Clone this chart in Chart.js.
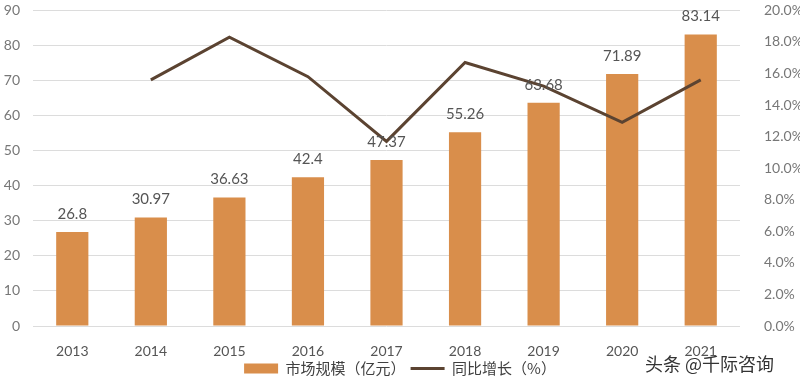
<!DOCTYPE html>
<html>
<head>
<meta charset="utf-8">
<script src="https://cdn.jsdelivr.net/npm/chart.js@4/dist/chart.umd.min.js"></script>
<style>
  html, body { margin: 0; padding: 0; background: #fff; overflow: hidden; }
  #wrap { width: 800px; height: 404px; position: relative; top: -14px; }
</style>
</head>
<body>
<div id="wrap"><canvas id="chart"></canvas></div>
<script>
var years = ['2013', '2014', '2015', '2016', '2017', '2018', '2019', '2020', '2021'];
var marketSize = [26.8, 30.97, 36.63, 42.4, 47.37, 55.26, 63.68, 71.89, 83.14];
var growthRate = [null, 15.6, 18.3, 15.8, 11.7, 16.7, 15.2, 12.9, 15.6];
var barLabel = '市场规模（亿元）';
var lineLabel = '同比增长（%）';
var watermark = '头条 @千际咨询';

var FONT = "Lato, 'Noto Sans CJK SC', sans-serif";
var CJK = "'Noto Sans CJK SC', sans-serif";

// value labels above each bar + watermark in the corner
var barValues = {
    id: 'barValues',
    afterDatasetsDraw: function (chart) {
        var ctx = chart.ctx;
        var meta = chart.getDatasetMeta(0);
        ctx.save();
        ctx.font = '15px ' + FONT;
        ctx.fillStyle = '#555';
        ctx.textAlign = 'center';
        ctx.textBaseline = 'middle';
        meta.data.forEach(function (bar, i) {
            ctx.fillText(String(marketSize[i]), bar.x, bar.y - 18);
        });
        ctx.restore();
    },
    afterDraw: function (chart) {
        // canvas is shifted up 14px in the page
        var ctx = chart.ctx;
        ctx.save();
        ctx.font = '18px ' + CJK;
        ctx.fillStyle = '#333';
        ctx.textAlign = 'left';
        ctx.textBaseline = 'middle';
        ctx.fillText(watermark, 645, 378);
        ctx.restore();
    }
};

var ctx = document.getElementById('chart').getContext('2d');
var myChart = new Chart(ctx, {
    type: 'bar',
    data: {
        labels: years,
        datasets: [
            {
                type: 'bar',
                label: barLabel,
                data: marketSize,
                backgroundColor: '#D98E4B',
                borderWidth: 0,
                barPercentage: 0.41,
                categoryPercentage: 1,
                pointStyle: 'rect',
                yAxisID: 'y',
                order: 2
            },
            {
                type: 'line',
                label: lineLabel,
                data: growthRate,
                borderColor: '#5B4331',
                backgroundColor: '#5B4331',
                borderWidth: 3,
                pointRadius: 0,
                pointStyle: 'line',
                tension: 0,
                yAxisID: 'y1',
                order: 1
            }
        ]
    },
    options: {
        responsive: true,
        maintainAspectRatio: false,
        animation: false,
        layout: { padding: { top: 0, bottom: 4, left: 0, right: 0 } },
        plugins: {
            tooltip: { enabled: false },
            legend: {
                position: 'bottom',
                labels: {
                    usePointStyle: true,
                    pointStyleWidth: 34,
                    boxHeight: 10,
                    padding: 5,
                    color: '#404040',
                    font: { family: CJK, size: 15 },
                    sort: function (a, b) { return a.datasetIndex - b.datasetIndex; }
                }
            }
        },
        scales: {
            x: {
                grid: { display: false },
                border: { display: false },
                ticks: { color: '#555', padding: 9, font: { family: FONT, size: 14 } },
                afterFit: function (scale) { scale.height = 30; }
            },
            y: {
                position: 'left',
                min: 0,
                max: 90,
                ticks: { stepSize: 10, color: '#777', padding: 13, font: { family: FONT, size: 14 } },
                grid: { color: '#dcdcdc', drawTicks: false },
                border: { display: false },
                afterFit: function (scale) { scale.width = 33; }
            },
            y1: {
                position: 'right',
                min: 0,
                max: 20,
                ticks: {
                    stepSize: 2,
                    color: '#777',
                    padding: 16,
                    font: { family: FONT, size: 14 },
                    callback: function (v) { return v.toFixed(1) + '%'; }
                },
                grid: { display: false },
                border: { display: false },
                afterFit: function (scale) { scale.width = 60; }
            }
        }
    },
    plugins: [barValues]
});
</script>
</body>
</html>
